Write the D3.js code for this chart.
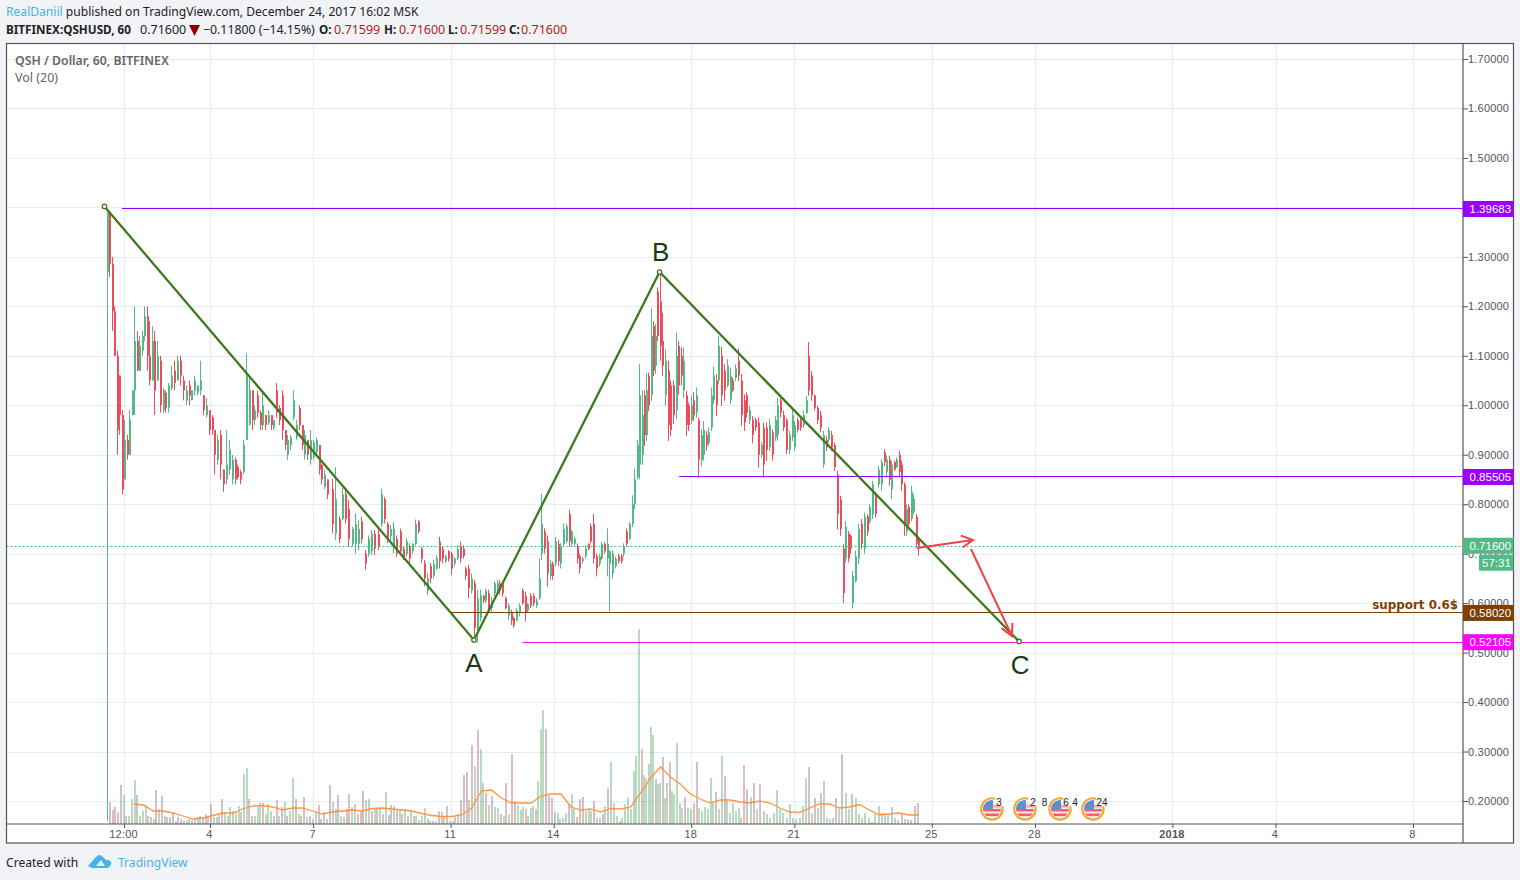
<!DOCTYPE html>
<html><head><meta charset="utf-8">
<script src="https://cdn.jsdelivr.net/npm/d3@7"></script>
<style>
html,body{margin:0;padding:0;background:#f1f3f6;overflow:hidden}
svg{display:block}
.hdr{font-family:"Noto Sans",sans-serif;font-size:12.5px;fill:#222}
.axis text{font-family:"Liberation Sans",Arial,sans-serif;font-size:11px;fill:#555;letter-spacing:.2px}
</style></head><body>
<svg id="c" width="1520" height="880"></svg>
<script>
// ---------- Candles, 3 reading sections; anchors tie a candle index to its Dec-2017 day ----------
const anchorIdxA=[0,11,16,19,51,62,81], anchorDayA=[1.0,1.79,2.17,2.37,5.05,5.92,7.49];
const anchorIdxB=[0,15,29,46,70,95,105], anchorDayB=[7.55,8.975,10.235,11.69,13.64,15.62,16.43];
const anchorIdxC=[0,9,15,32,64,76,80,91,105], anchorDayC=[16.49,17.08,17.55,18.79,21.41,22.41,22.69,23.6,24.61];
const highsA=[1.39,1.39,1.30,1.20,1.11,1.06,.99,.97,.94,.99,
1.03,1.20,1.15,1.14,1.15,1.20,1.20,1.17,1.16,1.15,
1.13,1.10,1.035,1.03,1.045,1.08,1.09,1.10,1.10,1.06,
1.04,1.05,1.03,1.06,1.04,1.09,1.02,1.015,.99,.98,
.95,.94,.95,.87,.95,.93,.90,.895,.88,.87,
.93,1.105,1.06,1.03,1.00,1.03,.99,1.03,.98,.99,
.98,.97,1.045,1.00,1.03,.95,.94,.94,1.03,.97,
1.00,.96,.95,.93,.95,.93,.935,.92,.88,.87,.85];
const lowsA=[.16,1.26,1.15,1.10,.90,.94,.82,.85,.89,.90,
.98,.98,1.07,1.07,1.10,1.13,1.07,1.04,1.05,.98,
1.05,.985,.985,.985,.985,1.03,1.03,1.05,1.04,1.01,
1.00,1.00,1.01,1.02,1.02,1.02,.98,.975,.94,.94,
.86,.88,.85,.825,.84,.86,.84,.84,.85,.84,
.86,.93,.96,.95,.96,.975,.95,.95,.95,.96,
.95,.95,.975,.96,.93,.91,.89,.91,.97,.93,
.95,.91,.89,.89,.88,.89,.90,.86,.84,.83,.81];
const opensA=[1.27,1.39,1.285,1.19,1.10,1.06,.98,.85,.93,.90,
.98,1.03,1.13,1.07,1.11,1.14,1.18,1.10,1.05,1.13,
1.05,1.09,.99,1.025,.995,1.035,1.07,1.05,1.09,1.05,
1.01,1.04,1.01,1.03,1.025,1.03,1.02,.98,.99,.975,
.95,.89,.94,.87,.85,.87,.85,.89,.875,.865,
.865,.93,.96,1.03,.97,1.02,.985,.96,.98,.965,
.98,.955,1.03,.995,1.02,.95,.90,.92,.975,.935,
.995,.96,.90,.93,.89,.895,.905,.92,.88,.835,.85];
const closesA=[1.39,1.285,1.19,1.10,.95,.98,.83,.93,.90,.97,
1.03,1.13,1.07,1.12,1.14,1.18,1.10,1.05,1.13,1.03,
1.10,1.00,1.03,.995,1.04,1.06,1.045,1.09,1.06,1.03,
1.03,1.02,1.03,1.05,1.04,1.05,.99,1.00,.95,.95,
.90,.93,.88,.84,.88,.91,.89,.85,.855,.85,
.92,1.06,1.03,.97,.99,.985,.96,1.00,.96,.98,
.96,.97,.985,.97,.95,.92,.93,.935,1.01,.96,
.96,.92,.94,.90,.93,.925,.93,.87,.85,.86,.82];

const highsB=[.852,.875,.775,.832,.832,.808,.754,.781,.768,.775,
.707,.737,.748,.748,.751,.832,.815,.764,.758,.764,
.737,.751,.714,.731,.721,.721,.769,.768,.714,.687,
.66,.681,.687,.697,.734,.714,.697,.707,.704,.694,
.717,.724,.717,.674,.677,.66,.647,.627,.627,.617,
.63,.627,.613,.644,.647,.647,.644,.613,.60,.587,
.573,.59,.60,.63,.623,.60,.62,.62,.61,.69,
.821,.751,.737,.687,.684,.734,.728,.721,.761,.761,
.789,.748,.734,.721,.70,.694,.717,.721,.761,.78,
.70,.70,.724,.724,.751,.707,.707,.694,.70,.70,
.721,.751,.764,.818,.872,.93];
const lowsB=[.741,.728,.721,.768,.761,.714,.714,.70,.707,.721,
.667,.694,.697,.697,.707,.754,.761,.721,.728,.70,
.694,.697,.687,.694,.681,.70,.717,.741,.681,.634,
.617,.64,.65,.667,.67,.681,.681,.684,.657,.674,
.687,.681,.69,.647,.61,.62,.526,.52,.563,.60,
.60,.58,.583,.613,.617,.617,.613,.587,.566,.556,
.55,.563,.573,.597,.563,.58,.59,.593,.59,.607,
.687,.70,.634,.647,.647,.674,.674,.67,.714,.721,
.714,.714,.714,.68,.66,.68,.69,.707,.721,.68,
.654,.674,.687,.70,.654,.583,.65,.67,.68,.68,
.694,.714,.728,.754,.79,.85];
const opensB=[.83,.74,.77,.77,.82,.79,.72,.72,.72,.765,
.70,.70,.705,.74,.74,.76,.81,.76,.735,.715,
.73,.745,.71,.70,.715,.705,.72,.765,.71,.68,
.625,.675,.655,.67,.725,.71,.685,.705,.70,.68,
.69,.715,.71,.67,.67,.625,.64,.54,.57,.615,
.605,.62,.59,.62,.625,.64,.64,.61,.575,.58,
.57,.565,.58,.625,.615,.585,.615,.615,.595,.61,
.70,.745,.725,.655,.68,.68,.72,.68,.72,.725,
.78,.72,.72,.715,.695,.685,.695,.72,.755,.76,
.695,.68,.69,.72,.69,.68,.66,.675,.695,.695,
.70,.745,.73,.76,.80,.855];
const closesB=[.76,.81,.73,.82,.77,.73,.75,.76,.75,.73,
.68,.73,.74,.71,.715,.82,.77,.73,.75,.75,
.70,.705,.69,.725,.69,.72,.76,.745,.69,.65,
.65,.65,.68,.69,.685,.69,.695,.69,.67,.69,
.71,.69,.695,.655,.63,.65,.55,.61,.615,.605,
.625,.59,.605,.64,.64,.625,.62,.59,.595,.565,
.555,.585,.595,.60,.58,.598,.595,.60,.605,.65,
.76,.71,.66,.68,.655,.725,.685,.715,.75,.755,
.725,.745,.73,.69,.67,.69,.71,.71,.725,.69,
.67,.695,.72,.705,.72,.705,.70,.69,.685,.685,
.715,.72,.76,.80,.85,.92];

const highsC=[1.083,1.03,1.03,1.066,1.066,1.196,1.17,1.164,1.238,1.268,
1.187,1.113,1.09,1.05,1.05,1.147,1.13,1.117,1.117,1.029,
1.005,1.019,1.026,1.036,.975,.951,.968,.948,.955,1.036,
1.079,1.063,1.14,1.118,1.083,1.093,1.076,1.056,1.083,1.115,
1.063,1.022,1.026,.999,.978,.975,.975,.925,.965,.965,
.972,.951,.978,1.015,1.015,.989,.975,.948,.992,.968,
.975,.975,.989,1.019,1.128,1.069,1.022,.999,.989,.948,
.938,.955,.948,.925,.867,.817,.719,.766,.746,.739,
.665,.706,.76,.77,.783,.78,.80,.847,.824,.877,
.891,.911,.898,.898,.888,.888,.894,.908,.888,.844,
.80,.80,.837,.82,.78,.733];
const lowsC=[.85,.88,.918,.928,.988,1.009,1.059,1.063,1.13,1.09,
1.059,.999,.928,.938,.962,.972,1.022,1.04,1.015,.938,
.948,.962,.968,.975,.854,.877,.888,.908,.918,.948,
1.002,.978,1.042,.999,1.009,1.036,1.002,1.026,1.049,1.049,
.958,.948,.975,.962,.923,.948,.874,.894,.854,.888,
.908,.888,.928,.928,.975,.948,.901,.901,.928,.908,
.945,.948,.955,.982,1.019,1.009,.989,.962,.945,.874,
.908,.925,.908,.867,.749,.736,.60,.682,.682,.70,
.589,.642,.679,.709,.70,.736,.76,.77,.773,.834,
.827,.877,.854,.837,.81,.867,.874,.854,.827,.736,
.736,.753,.766,.78,.712,.696];
const opensC=[.88,.90,1.02,.94,1.06,1.02,1.16,1.08,1.23,1.21,
1.13,1.02,1.07,1.04,1.04,.99,1.12,1.10,1.03,1.02,
1.00,.97,1.01,.985,.97,.89,.90,.94,.925,.955,
1.01,1.05,1.05,1.10,1.07,1.04,1.01,1.05,1.055,1.09,
1.05,1.01,1.02,.97,.97,.97,.965,.90,.955,.955,
.915,.945,.935,.94,1.01,.98,.97,.91,.935,.915,
.97,.97,.96,.985,1.10,1.06,1.02,.995,.98,.88,
.93,.93,.94,.92,.86,.81,.71,.69,.74,.735,
.60,.645,.69,.76,.71,.775,.765,.78,.82,.84,
.84,.905,.865,.89,.83,.885,.875,.90,.88,.84,
.745,.795,.77,.785,.775,.73];
const closesC=[1.02,.98,.94,1.03,1.00,1.14,1.07,1.14,1.14,1.12,
1.08,1.09,.96,.95,.98,1.10,1.04,1.06,1.09,.96,
.96,1.00,.98,1.02,.89,.94,.95,.92,.945,1.02,
1.06,1.00,1.12,1.02,1.03,1.08,1.06,1.03,1.075,1.06,
.98,.965,.985,.99,.94,.955,.90,.92,.88,.91,
.96,.90,.97,1.00,.985,.955,.91,.94,.98,.96,
.95,.955,.98,1.01,1.03,1.02,.995,.97,.955,.94,
.915,.95,.915,.875,.78,.75,.62,.755,.69,.71,
.655,.695,.75,.72,.775,.745,.795,.84,.78,.87,
.885,.885,.89,.85,.88,.87,.89,.865,.84,.76,
.79,.76,.825,.81,.72,.716];

// ---------- Volume (thousands; negative = down bar), 2 reading sections with day anchors ----------
const volAnchorIdxA=[0,50,67,80,133,147], volAnchorDayA=[1.09,5.07,6.41,7.49,11.79,12.96];
const volAnchorIdxB=[0,8,43,59,66,83,103,114,137], volAnchorDayB=[13.04,13.62,16.49,17.58,18.16,19.54,21.44,22.40,24.6];
const volumeA=[-22,-14,-17,-12,-39,29,-8,8,25,44,-29,8,13,19,-8,-7,5,-34,15,-28,8,7,-7,-11,3,-7,-5,-3,3,5,-4,6,7,8,-7,-10,8,-20,-7,7,10,-25,12,8,17,-13,13,18,-12,50,56,-25,-8,8,17,21,-21,10,20,13,-8,-24,8,-17,22,-8,13,46,-25,10,-8,-27,7,-8,5,12,-19,-5,12,5,-39,22,15,-29,8,7,-15,-30,17,20,-10,-12,-33,24,25,-13,16,-16,15,-10,32,-9,-19,18,-15,15,-10,15,-8,14,-8,8,-4,8,16,5,-3,-3,3,-13,-12,8,-18,-3,3,-7,10,-24,-49,-52,24,-79,58,-94,75,41,-31,19,-28,17,16,-10,8,-41,10,-70,-23,19];
const volumeB=[14,17,-15,8,16,18,-15,43,95,114,-95,-28,-26,12,11,-5,6,11,-21,30,15,-7,-25,-27,13,15,13,-23,6,6,-10,18,-36,62,21,8,-3,6,20,26,15,53,68,195,-75,49,46,60,97,89,-45,40,41,-67,26,41,-62,33,30,81,21,16,-27,16,15,-21,-62,16,13,17,15,46,21,-32,15,68,-48,25,11,21,13,16,6,-59,-35,27,-41,15,-40,13,10,6,11,34,15,11,6,20,6,5,6,18,46,-57,11,-26,16,-31,43,6,5,6,-26,15,-70,31,15,-30,26,10,6,11,6,-2,10,18,11,11,10,17,6,4,-10,5,5,-4,-18,-21];
// 20-period volume average (same units), evenly spaced samples between maDays
const maDays=[1.77,24.63];
const volumeMA=[20,19,13,13,11,8,5,6,8.5,11,11,15,18,18.5,17,14,16,16,13,10,12,13,14,13,15.5,16,15,14,13,10.5,8.5,7.5,7.5,9,16,33,34,26,21,
21,21,28,30,30,17,14,15,12,15.5,15,17,31,46,57,47,40,30,25,21,24,24,22,21,23,21,16,12,11.5,16,20,20,16,17,19.5,14,9,10,11,9,9];

// ---------- Axes ----------
const priceTicks=[1.7,1.6,1.5,1.4,1.3,1.2,1.1,1.0,.9,.8,.7,.6,.5,.4,.3,.2];
const timeTickDays=[1.5,4,7,11,14,18,21,25,28,32,35,39];
const timeTickLabels=["12:00","4","7","11","14","18","21","25","28","2018","4","8"];

// ---------- Drawings ----------
const waveDays=[0.93,11.68,17.08,27.54];
const wavePrices=[1.402,.5255,1.2694,.5225];
const waveLabels=["","A","B","C"];
const levelPrices=[1.39683,.85505,.5802,.52105];
const levelStartDays=[1.44,17.65,10.98,13.1];
const levelColors=["#9900ff","#9900ff","#7f3f00","#ee11ee"];
const levelBoxColors=["#9900ff","#9900ff","#7f3f00","#ff00ff"];
const arrowDays=[[24.57,26.2],[26.14,27.33]];
const arrowPrices=[[.7115,.7277],[.7095,.5336]];
const lastPrice=.716;
const flagDays=[26.75,27.71,28.73,29.69];
const flagCounts=[["3"],["2","8"],["6","4"],["24"]];

// ---------- Scales ----------
const P={l:6.5,t:43.5,r:1463,b:824};
const x=d3.scaleLinear().domain([4,39]).range([210,1413]);
const y=d3.scaleLinear().domain([1.7,.2]).range([59,801]);
const vol=d3.scaleLinear().domain([0,195]).range([824,629]);
const svg=d3.select("#c");

svg.append("rect").attr("width",1520).attr("height",880).attr("fill","#f1f3f6");
svg.append("rect").attr("x",P.l).attr("y",P.t).attr("width",1513.5-P.l).attr("height",843-P.t).attr("fill","#fff");
svg.append("defs").append("clipPath").attr("id","pane").append("rect")
  .attr("x",P.l).attr("y",P.t).attr("width",P.r-P.l).attr("height",P.b-P.t);

// grid
const grid=svg.append("g").attr("stroke","#e3edf3").attr("stroke-width",1);
priceTicks.forEach(p=>grid.append("line").attr("x1",P.l).attr("x2",P.r).attr("y1",Math.round(y(p))+.5).attr("y2",Math.round(y(p))+.5));
timeTickDays.forEach(d=>grid.append("line").attr("y1",P.t).attr("y2",P.b).attr("x1",Math.round(x(d))+.5).attr("x2",Math.round(x(d))+.5));

const pane=svg.append("g").attr("clip-path","url(#pane)");

// volume
function volumeSection(vals,idx,days){
  const ds=d3.scaleLinear().domain(idx).range(days);
  pane.append("g").selectAll("rect").data(vals).join("rect")
    .attr("x",(v,i)=>Math.round(x(ds(i)))-1).attr("width",2)
    .attr("y",v=>vol(Math.abs(v))).attr("height",v=>vol(0)-vol(Math.abs(v)))
    .attr("fill",v=>v>=0?"rgba(96,170,112,.44)":"rgba(160,96,106,.4)");
}
volumeSection(volumeA,volAnchorIdxA,volAnchorDayA);
volumeSection(volumeB,volAnchorIdxB,volAnchorDayB);
const maScale=d3.scaleLinear().domain([0,volumeMA.length-1]).range(maDays);
pane.append("path").datum(volumeMA)
  .attr("d",d3.line().x((v,i)=>x(maScale(i))).y(v=>vol(v)))
  .attr("fill","none").attr("stroke","#ff9445").attr("stroke-width",1.3);

// candles
function candleSection(hi,lo,op,cl,idx,days){
  const ds=d3.scaleLinear().domain(idx).range(days);
  const rows=hi.map((h,i)=>({h,l:lo[i],o:op[i],c:cl[i],i}));
  const col=r=>r.c>=r.o?"#53b987":"#eb4d5c";
  const g=pane.append("g");
  g.selectAll("line").data(rows).join("line")
    .attr("x1",r=>Math.round(x(ds(r.i)))+.5).attr("x2",r=>Math.round(x(ds(r.i)))+.5)
    .attr("y1",r=>y(r.h)).attr("y2",r=>y(r.l)).attr("stroke",col).attr("stroke-width",1);
  g.selectAll("rect").data(rows).join("rect")
    .attr("x",r=>Math.round(x(ds(r.i)))).attr("width",2)
    .attr("y",r=>y(Math.max(r.o,r.c))).attr("height",r=>Math.max(1,Math.abs(y(r.o)-y(r.c))))
    .attr("fill",col);
}
candleSection(highsA,lowsA,opensA,closesA,anchorIdxA,anchorDayA);
candleSection(highsB,lowsB,opensB,closesB,anchorIdxB,anchorDayB);
candleSection(highsC,lowsC,opensC,closesC,anchorIdxC,anchorDayC);

// last price dotted line
pane.append("line").attr("x1",P.l).attr("x2",P.r).attr("y1",Math.round(y(lastPrice))+.5).attr("y2",Math.round(y(lastPrice))+.5)
  .attr("stroke","#53b987").attr("stroke-width",1).attr("stroke-dasharray","2 2");

// horizontal levels
levelPrices.forEach((p,i)=>{
  pane.append("line").attr("x1",x(levelStartDays[i])).attr("x2",P.r)
    .attr("y1",Math.floor(y(p))+.5).attr("y2",Math.floor(y(p))+.5)
    .attr("stroke",levelColors[i]).attr("stroke-width",1.1);
});
svg.append("text").attr("x",1458).attr("y",609).attr("text-anchor","end")
  .attr("font-family","'DejaVu Sans',sans-serif").attr("font-weight","bold").attr("font-size",11.9)
  .attr("fill","#7f3f00").text("support 0.6$");

// wave
const wave=waveDays.map((d,i)=>[x(d),y(wavePrices[i])]);
pane.append("path").attr("d",d3.line()(wave)).attr("fill","none").attr("stroke","#3d7a1f").attr("stroke-width",2.3);
wave.forEach(w=>pane.append("circle").attr("cx",w[0]).attr("cy",w[1]).attr("r",2.2)
  .attr("fill","#fff").attr("stroke","#3d7a1f").attr("stroke-width",1.3));
const labelOffset={A:[0,32],B:[1,-11],C:[1,33]};
waveLabels.forEach((t,i)=>{ if(!t) return;
  pane.append("text").attr("x",wave[i][0]+labelOffset[t][0]).attr("y",wave[i][1]+labelOffset[t][1])
    .attr("text-anchor","middle").attr("font-family","'Liberation Sans',Arial,sans-serif")
    .attr("font-size",26).attr("fill","#1c3a12").text(t);
});

// arrows
arrowDays.forEach((ds,i)=>{
  const a=[x(ds[0]),y(arrowPrices[i][0])], b=[x(ds[1]),y(arrowPrices[i][1])];
  const ang=Math.atan2(b[1]-a[1],b[0]-a[0]), L=13, sp=.48;
  const h1=[b[0]-L*Math.cos(ang-sp),b[1]-L*Math.sin(ang-sp)], h2=[b[0]-L*Math.cos(ang+sp),b[1]-L*Math.sin(ang+sp)];
  pane.append("path").attr("d",d3.line()([a,b])+d3.line()([h1,b,h2]))
    .attr("fill","none").attr("stroke","#f2404c").attr("stroke-width",2);
});

// earnings flags
const flagLabelOffsets=[[7],[8,19.5],[6,15],[9]];
flagDays.forEach((d,i)=>{
  const cx=x(d), cy=809;
  const g=svg.append("g").attr("transform",`translate(${cx},${cy})`);
  const id="fl"+i;
  g.append("clipPath").attr("id",id).append("circle").attr("r",9);
  const f=g.append("g").attr("clip-path",`url(#${id})`);
  f.append("rect").attr("x",-10).attr("y",-10).attr("width",20).attr("height",20).attr("fill","#fbe9ea");
  [0,4.5].forEach(o=>f.append("rect").attr("x",-10).attr("y",o).attr("width",20).attr("height",2.5).attr("fill","#f0606e"));
  f.append("rect").attr("x",1).attr("y",-4).attr("width",9).attr("height",2.5).attr("fill","#f4a5ad");
  f.append("rect").attr("x",-10).attr("y",-10).attr("width",11).attr("height",10).attr("fill","#5b8fd0");
  const arc=d3.arc();
  g.append("path").attr("d",arc({innerRadius:9.5,outerRadius:11.8,startAngle:-2.3,endAngle:.3})).attr("fill","#f7a632");
  g.append("path").attr("d",arc({innerRadius:9.5,outerRadius:11.8,startAngle:1.3,endAngle:4.0})).attr("fill","#f7a632");
  flagCounts[i].forEach((t,j)=>g.append("text").attr("x",flagLabelOffsets[i][j]).attr("y",-3)
    .attr("text-anchor","middle").attr("font-family","'Liberation Sans',Arial,sans-serif").attr("font-size",10).attr("fill","#222").text(t));
});

// price axis
const yAxis=svg.append("g").attr("class","axis").attr("transform",`translate(${P.r},0)`)
  .call(d3.axisRight(y).tickValues(priceTicks).tickFormat(d3.format(".5f")).tickSize(5).tickPadding(1));
yAxis.select(".domain").remove();
yAxis.selectAll("line").attr("stroke","#555");
yAxis.selectAll("text").attr("transform","translate(-1,0)");
// time axis
const xAxis=svg.append("g").attr("class","axis").attr("transform",`translate(0,${P.b})`)
  .call(d3.axisBottom(x).tickValues(timeTickDays).tickFormat((d,i)=>timeTickLabels[i]).tickSize(4).tickPadding(2));
xAxis.select(".domain").remove();
xAxis.selectAll("line").attr("stroke","#555");
xAxis.selectAll("text").attr("transform","translate(-1,0)").attr("font-weight",(d,i)=>timeTickLabels[i]==="2018"?"bold":null);

// frame
const frame=svg.append("g").attr("stroke","#555").attr("stroke-width",1.2).attr("fill","none");
frame.append("rect").attr("x",P.l).attr("y",P.t).attr("width",1513.5-P.l).attr("height",843-P.t);
frame.append("line").attr("x1",P.r).attr("x2",P.r).attr("y1",P.t).attr("y2",843);
frame.append("line").attr("x1",P.l).attr("x2",P.r).attr("y1",P.b).attr("y2",P.b);

// price boxes
function priceBox(p,color){
  const g=svg.append("g").attr("transform",`translate(${P.r},${y(p)})`);
  g.append("rect").attr("x",0).attr("y",-8).attr("width",50.5).attr("height",16).attr("fill",color);
  g.append("text").attr("x",6.5).attr("y",4).attr("font-family","'Liberation Sans',Arial,sans-serif").attr("font-size",11.5)
    .attr("fill","#fff").text(d3.format(".5f")(p));
}
levelPrices.forEach((p,i)=>priceBox(p,levelBoxColors[i]));
priceBox(lastPrice,"#53b987");
const cd=svg.append("g").attr("transform",`translate(1479,${y(lastPrice)+9})`);
cd.append("rect").attr("width",34.5).attr("height",16).attr("fill","#53b987");
cd.append("text").attr("x",3).attr("y",12).attr("font-family","'Liberation Sans',Arial,sans-serif").attr("font-size",11.5).attr("fill","#fff").text("57:31");

// header
const hdr=svg.append("g").attr("class","hdr");
hdr.append("text").attr("x",6).attr("y",16).style("font-size","12.1px").html('<tspan fill="#45b3e6">RealDaniil</tspan> published on TradingView.com, December 24, 2017 16:02 MSK');
const row=(xx,t,o={})=>{const e=hdr.append("text").attr("x",xx).attr("y",34).attr("font-weight",o.b?"bold":null).attr("fill",o.c||"#222").text(t); if(o.s) e.style("font-size",o.s+"px"); return e;};
row(6,"BITFINEX:QSHUSD, 60",{b:1,s:11.7});
row(140,"0.71600");
svg.append("path").attr("d","M189,25H200L194.5,36Z").attr("fill","#8b0000");
row(203,"−0.11800 (−14.15%)",{s:12.3});
[[319,"O:",334,"0.71599"],[384,"H:",399,"0.71600"],[448,"L:",460,"0.71599"],[509,"C:",521,"0.71600"]].forEach(r=>{
  row(r[0],r[1],{b:1,s:11.7}); row(r[2],r[3],{c:"#b51a1a"});
});
svg.append("text").attr("x",15).attr("y",65).attr("font-family","'Noto Sans',sans-serif").attr("font-size",12.3).attr("font-weight",600).attr("fill","#666").text("QSH / Dollar, 60, BITFINEX");
svg.append("text").attr("x",15).attr("y",82).attr("font-family","'Noto Sans',sans-serif").attr("font-size",12.5).attr("fill","#666").text("Vol (20)");

// footer
svg.append("text").attr("x",6).attr("y",867).attr("font-family","'Noto Sans',sans-serif").attr("font-size",12.1).attr("fill","#222").text("Created with");
svg.append("path").attr("d","M88,866L96,857Q99,853 103,857L106,860Q112,860 111,864Q110,868 106,868L92,868Z").attr("fill","#45b3e6");
svg.append("path").attr("d","M96,866L101,860L105,866Z").attr("fill","#f1f3f6");
svg.append("text").attr("x",118).attr("y",867).attr("font-family","'Noto Sans',sans-serif").attr("font-size",12.1).attr("fill","#45b3e6").text("TradingView");
</script>
</body></html>
